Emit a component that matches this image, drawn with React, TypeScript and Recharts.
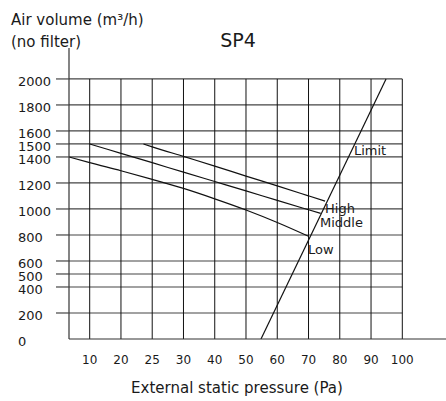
import { LineChart, Line, XAxis, YAxis, ReferenceLine, ReferenceDot } from "recharts";

// equally spaced categories on the pressure axis (note the extra 25 Pa step)
const PRESSURE_TICKS = [10, 20, 25, 30, 40, 50, 60, 70, 80, 90, 100];
const VOLUME_TICKS = [0, 200, 400, 500, 600, 800, 1000, 1200, 1400, 1500, 1600, 1800, 2000];

const LOW_PA = [3.4, 10, 20, 25, 30, 40, 50, 60, 70];
const LOW_VOL = [1400, 1356, 1294, 1228, 1158, 1078, 992, 896, 790];
const MIDDLE_PA = [10, 20, 25, 30, 40, 50, 60, 70, 73.9];
const MIDDLE_VOL = [1500, 1428, 1356, 1283, 1211, 1139, 1066, 994, 966];
const HIGH_PA = [23.6, 25, 30, 40, 50, 60, 70, 75.3];
const HIGH_VOL = [1500, 1478, 1404, 1330, 1253, 1178, 1101, 1060];
const LIMIT_PA = [54.8, 94.8];
const LIMIT_VOL = [0, 2000];
const LIMIT_LABEL_AT = { pa: 83.8, vol: 1450 };

const FONT = "'DejaVu Sans', sans-serif";
const INK = "#1a1a1a";
const X_MIN = 0.338;
const X_MAX = 12.398;

// pressure (Pa) -> position on the category-spaced axis
function axisPos(p: number) {
  const t = PRESSURE_TICKS;
  if (p <= t[0]) return p / t[0];
  for (let i = 0; i < t.length - 1; i++) {
    if (p <= t[i + 1]) return i + 1 + (p - t[i]) / (t[i + 1] - t[i]);
  }
  return t.length + (p - t[t.length - 1]) / 10;
}

const toSeries = (pa: number[], vol: number[]) => pa.map((p, i) => ({ x: axisPos(p), y: vol[i] }));

const lowData = toSeries(LOW_PA, LOW_VOL);
const middleData = toSeries(MIDDLE_PA, MIDDLE_VOL);
const highData = toSeries(HIGH_PA, HIGH_VOL);
const limitData = toSeries(LIMIT_PA, LIMIT_VOL);

const XTick = ({ x, payload }: any) => (
  <text x={x} y={364} textAnchor="middle" fontSize={12} fontFamily={FONT} fill={INK}>
    {PRESSURE_TICKS[payload.value - 1]}
  </text>
);

const YTick = ({ y, payload }: any) => (
  <g>
    {payload.value !== 0 && <line x1={56} x2={69} y1={y} y2={y} stroke="#444" strokeWidth={1.2} />}
    <text x={18} y={y + 6.6} textAnchor="start" fontSize={13} fontFamily={FONT} fill={INK}>
      {payload.value}
    </text>
  </g>
);

const textAt = (label: string, dx: number, dy: number) => (p: any) => (
  <text x={p.cx + dx} y={p.cy + dy} fontSize={13} fontFamily={FONT} fill={INK}>
    {label}
  </text>
);

export default function App() {
  const lastLow = lowData[lowData.length - 1];
  const lastMid = middleData[middleData.length - 1];
  const lastHigh = highData[highData.length - 1];

  return (
    <div style={{ position: "absolute", left: 0, top: 0, width: 446, height: 401, background: "#fff" }}>
      <LineChart width={446} height={401} margin={{ top: 48, right: 0, bottom: 32, left: 0 }}>
        <XAxis
          type="number"
          dataKey="x"
          domain={[X_MIN, X_MAX]}
          allowDataOverflow
          ticks={PRESSURE_TICKS.map((_, i) => i + 1)}
          interval={0}
          height={30}
          tickLine={false}
          axisLine={{ stroke: "#333", strokeWidth: 1.2 }}
          tick={<XTick />}
        />
        <YAxis
          type="number"
          dataKey="y"
          domain={[0, 2238]}
          allowDataOverflow
          ticks={VOLUME_TICKS}
          interval={0}
          width={69}
          tickLine={false}
          axisLine={{ stroke: "#333", strokeWidth: 1.2 }}
          tick={<YTick />}
        />

        {VOLUME_TICKS.filter((v) => v > 0).map((v) => (
          <ReferenceLine
            key={"h" + v}
            segment={[{ x: X_MIN, y: v }, { x: PRESSURE_TICKS.length, y: v }]}
            stroke="#444"
            strokeWidth={1.2}
          />
        ))}
        {PRESSURE_TICKS.map((_, i) => (
          <ReferenceLine
            key={"v" + i}
            segment={[{ x: i + 1, y: 0 }, { x: i + 1, y: 2000 }]}
            stroke="#111"
            strokeWidth={1}
          />
        ))}

        <Line data={lowData} dataKey="y" type="monotone" stroke="#111" strokeWidth={1.2} dot={false} isAnimationActive={false} />
        <Line data={middleData} dataKey="y" type="monotone" stroke="#111" strokeWidth={1.2} dot={false} isAnimationActive={false} />
        <Line data={highData} dataKey="y" type="monotone" stroke="#111" strokeWidth={1.2} dot={false} isAnimationActive={false} />
        <Line data={limitData} dataKey="y" type="linear" stroke="#111" strokeWidth={1.2} dot={false} isAnimationActive={false} />

        <ReferenceDot x={lastLow.x} y={lastLow.y} r={0} shape={textAt("Low", -0.4, 17.6)} />
        <ReferenceDot x={lastMid.x} y={lastMid.y} r={0} shape={textAt("Middle", -0.7, 13.4)} />
        <ReferenceDot x={lastHigh.x} y={lastHigh.y} r={0} shape={textAt("High", 0, 11.7)} />
        <ReferenceDot
          x={axisPos(LIMIT_LABEL_AT.pa)}
          y={LIMIT_LABEL_AT.vol}
          r={0}
          shape={textAt("Limit", 2.3, 4.5)}
        />
      </LineChart>

      <svg width={446} height={401} style={{ position: "absolute", left: 0, top: 0, pointerEvents: "none" }}>
        <text x={11} y={25} fontSize={15} fontFamily={FONT} fill={INK}>Air volume (m³/h)</text>
        <text x={11} y={46.5} fontSize={15} fontFamily={FONT} fill={INK}>(no filter)</text>
        <text x={238} y={46.7} textAnchor="middle" fontSize={19} fontFamily={FONT} fill={INK}>SP4</text>
        <text x={237} y={393} textAnchor="middle" fontSize={15} fontFamily={FONT} fill={INK}>
          External static pressure (Pa)
        </text>
      </svg>
    </div>
  );
}
